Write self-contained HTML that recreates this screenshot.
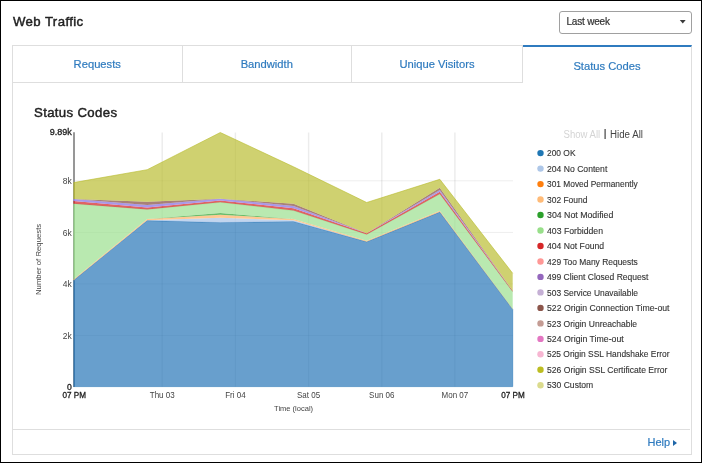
<!DOCTYPE html>
<html><head><meta charset="utf-8">
<style>
html,body{margin:0;padding:0;background:#fff;}
body{width:702px;height:463px;position:relative;overflow:hidden;font-family:"Liberation Sans",sans-serif;}
.frame{position:absolute;left:0;top:0;width:700px;height:461px;border:1px solid #000;}
.title{position:absolute;left:13px;top:14px;font-size:13.2px;color:#222;line-height:16px;letter-spacing:0.4px;-webkit-text-stroke:0.45px #222;}
.select{position:absolute;left:559px;top:11px;width:131px;height:21px;border:1px solid #a0a0a0;border-radius:3px;background:#fff;}
.select span{position:absolute;left:6.5px;top:3px;font-size:10px;line-height:13px;color:#333;letter-spacing:-0.2px;-webkit-text-stroke:0.2px #333;}
.select i{position:absolute;right:6px;top:9px;width:0;height:0;border-left:3px solid transparent;border-right:3px solid transparent;border-top:3.5px solid #444;}
.panel{position:absolute;left:12px;top:45px;width:680px;height:410px;border:1px solid #dedede;box-sizing:border-box;}
.tab{position:absolute;top:45px;height:38px;box-sizing:border-box;border:1px solid #dedede;border-left:none;background:#fff;color:#2f7bbf;font-size:11.2px;text-align:center;line-height:36px;-webkit-text-stroke:0.2px #2f7bbf;}
.tab.first{border-left:1px solid #dedede;}
.tab.active{border-bottom:none;border-top:2px solid #2f7bbf;line-height:38px;}
.h2{position:absolute;left:34px;top:104.5px;font-size:13.2px;color:#222;line-height:16px;letter-spacing:0.35px;-webkit-text-stroke:0.45px #222;}
.footline{position:absolute;left:13px;top:428.5px;width:677px;height:1px;background:#dedede;}
.help{position:absolute;left:647.5px;top:436.3px;font-size:11px;line-height:13px;color:#2f7bbf;-webkit-text-stroke:0.2px #2f7bbf;}
.help i{position:absolute;left:25.2px;top:4.2px;width:0;height:0;border-top:3.3px solid transparent;border-bottom:3.3px solid transparent;border-left:4px solid #1f66a8;}
svg{position:absolute;left:0;top:0;}
svg text{font-family:"Liberation Sans",sans-serif;}
.lg{font-size:8.7px;fill:#333;stroke:#333;stroke-width:0.12px;}
.ax{font-size:8px;fill:#444;}
.axb{font-size:8.6px;fill:#222;stroke:#222;stroke-width:0.3px;}
.aa{will-change:transform;}
</style></head><body>
<div class="aa">
<div class="panel"></div>
<div class="tab first" style="left:12px;width:170.5px;">Requests</div>
<div class="tab" style="left:182.5px;width:169.5px;">Bandwidth</div>
<div class="tab" style="left:352px;width:171px;">Unique Visitors</div>
<div class="tab active" style="left:523px;width:169px;">Status Codes</div>
<div class="title">Web Traffic</div>
<div class="select"><span>Last week</span></div>
<div class="h2">Status Codes</div>
<svg width="702" height="463" viewBox="0 0 702 463">
<line x1="162.2" y1="132.5" x2="162.2" y2="386.7" stroke="#000" stroke-opacity="0.075" stroke-width="1.5"/><line x1="235.4" y1="132.5" x2="235.4" y2="386.7" stroke="#000" stroke-opacity="0.075" stroke-width="1.5"/><line x1="308.6" y1="132.5" x2="308.6" y2="386.7" stroke="#000" stroke-opacity="0.075" stroke-width="1.5"/><line x1="381.8" y1="132.5" x2="381.8" y2="386.7" stroke="#000" stroke-opacity="0.075" stroke-width="1.5"/><line x1="454.9" y1="132.5" x2="454.9" y2="386.7" stroke="#000" stroke-opacity="0.075" stroke-width="1.5"/><line x1="74" y1="335.4" x2="513" y2="335.4" stroke="#000" stroke-opacity="0.07" stroke-width="1"/><line x1="74" y1="283.9" x2="513" y2="283.9" stroke="#000" stroke-opacity="0.07" stroke-width="1"/><line x1="74" y1="232.4" x2="513" y2="232.4" stroke="#000" stroke-opacity="0.07" stroke-width="1"/><line x1="74" y1="180.8" x2="513" y2="180.8" stroke="#000" stroke-opacity="0.07" stroke-width="1"/>
<line x1="74" y1="132.3" x2="74" y2="387" stroke="#8c8c8c" stroke-width="1.8"/>
<polygon points="73.6,280.3 147.2,220.6 220.3,222.6 293.5,221.5 366.7,241.8 439.8,212.1 512.7,309.4 512.7,386.6 439.8,386.6 366.7,386.6 293.5,386.6 220.3,386.6 147.2,386.6 73.6,386.6" fill="#2171b5" fill-opacity="0.68"/>
<polyline points="73.6,280.3 147.2,220.6 220.3,222.6 293.5,221.5 366.7,241.8 439.8,212.1 512.7,309.4 512.7,386.6 73.6,386.6" fill="none" stroke="#2171b5" stroke-opacity="0.55" stroke-width="1" stroke-linejoin="round"/>
<polygon points="73.6,280.3 147.2,220.2 220.3,217.8 293.5,220.3 366.7,241.8 366.7,241.8 293.5,221.5 220.3,222.6 147.2,220.6 73.6,280.3" fill="#aec7e8" fill-opacity="0.75"/>
<polygon points="73.6,279.2 147.2,219.0 220.3,214.8 293.5,219.0 366.7,240.7 439.8,210.8 512.7,308.9 512.7,309.4 439.8,212.1 366.7,241.8 293.5,220.3 220.3,217.8 147.2,220.2 73.6,280.3" fill="#ffbb78" fill-opacity="0.8"/>
<polygon points="147.2,219.0 220.3,213.1 293.5,219.0 293.5,219.0 220.3,214.8 147.2,219.0" fill="#2ca02c" fill-opacity="0.7"/>
<polygon points="73.6,203.7 147.2,209.4 220.3,202.3 293.5,210.6 366.7,234.5 439.8,194.0 512.7,291.8 512.7,308.9 439.8,210.8 366.7,240.7 293.5,219.0 220.3,213.1 147.2,219.0 73.6,279.2" fill="#98df8a" fill-opacity="0.68"/>
<polyline points="73.6,203.7 147.2,209.4 220.3,202.3 293.5,210.6 366.7,234.5 439.8,194.0 512.7,291.8" fill="none" stroke="#98df8a" stroke-opacity="0.5" stroke-width="1" stroke-linejoin="round"/>
<polygon points="73.6,201.1 147.2,207.4 220.3,200.4 293.5,208.3 366.7,233.2 439.8,191.8 512.7,290.8 512.7,291.8 439.8,194.0 366.7,234.5 293.5,210.6 220.3,202.3 147.2,209.4 73.6,203.7" fill="#d62728" fill-opacity="0.72"/>
<polygon points="73.6,199.1 147.2,205.1 220.3,198.8 293.5,206.0 366.7,233.2 439.8,190.1 512.7,290.8 512.7,290.8 439.8,191.8 366.7,233.2 293.5,208.3 220.3,200.4 147.2,207.4 73.6,201.1" fill="#9a86e6" fill-opacity="0.85"/>
<polygon points="73.6,199.1 147.2,201.7 220.3,198.8 293.5,203.8 366.7,233.2 439.8,187.8 512.7,290.8 512.7,290.8 439.8,190.1 366.7,233.2 293.5,206.0 220.3,198.8 147.2,205.1 73.6,199.1" fill="#8c564b" fill-opacity="0.75"/>
<polygon points="73.6,182.6 147.2,169.7 220.3,132.5 293.5,166.8 366.7,202.5 439.8,179.3 512.7,273.3 512.7,290.8 439.8,187.8 366.7,233.2 293.5,203.8 220.3,198.8 147.2,201.7 73.6,199.1" fill="#b8bb2c" fill-opacity="0.68"/>
<polyline points="73.6,182.6 147.2,169.7 220.3,132.5 293.5,166.8 366.7,202.5 439.8,179.3 512.7,273.3" fill="none" stroke="#b8bb2c" stroke-opacity="0.6" stroke-width="1" stroke-linejoin="round"/>
<line x1="74.1" x2="74.1" y1="280.3" y2="386.6" stroke="#2171b5" stroke-opacity="0.6" stroke-width="1"/>
<line x1="74.1" x2="74.1" y1="279.2" y2="280.3" stroke="#ffbb78" stroke-opacity="0.6" stroke-width="1"/>
<line x1="74.1" x2="74.1" y1="203.7" y2="279.2" stroke="#98df8a" stroke-opacity="0.6" stroke-width="1"/>
<line x1="74.1" x2="74.1" y1="201.1" y2="203.7" stroke="#d62728" stroke-opacity="0.6" stroke-width="1"/>
<line x1="74.1" x2="74.1" y1="199.1" y2="201.1" stroke="#9a86e6" stroke-opacity="0.6" stroke-width="1"/>
<line x1="74.1" x2="74.1" y1="182.6" y2="199.1" stroke="#b8bb2c" stroke-opacity="0.6" stroke-width="1"/>
<text transform="translate(162.2,398) scale(0.91,1)" class="ax" text-anchor="middle" style="font-size:8.8px">Thu 03</text><text transform="translate(235.4,398) scale(0.91,1)" class="ax" text-anchor="middle" style="font-size:8.8px">Fri 04</text><text transform="translate(308.6,398) scale(0.91,1)" class="ax" text-anchor="middle" style="font-size:8.8px">Sat 05</text><text transform="translate(381.8,398) scale(0.91,1)" class="ax" text-anchor="middle" style="font-size:8.8px">Sun 06</text><text transform="translate(454.9,398) scale(0.91,1)" class="ax" text-anchor="middle" style="font-size:8.8px">Mon 07</text><text x="71.8" y="338.7" class="ax" text-anchor="end" style="font-size:8.5px">2k</text><text x="71.8" y="287.2" class="ax" text-anchor="end" style="font-size:8.5px">4k</text><text x="71.8" y="235.70000000000002" class="ax" text-anchor="end" style="font-size:8.5px">6k</text><text x="71.8" y="184.10000000000002" class="ax" text-anchor="end" style="font-size:8.5px">8k</text>
<text x="71.8" y="135.2" class="axb" text-anchor="end" textLength="22" lengthAdjust="spacingAndGlyphs">9.89k</text>
<text x="71.8" y="389.8" class="axb" text-anchor="end">0</text>
<text x="74.2" y="397.9" class="axb" text-anchor="middle" textLength="23.5" lengthAdjust="spacingAndGlyphs">07 PM</text>
<text x="513" y="397.9" class="axb" text-anchor="middle" textLength="23.5" lengthAdjust="spacingAndGlyphs">07 PM</text>
<text x="293.6" y="411.2" class="ax" text-anchor="middle" style="font-size:7.9px" textLength="39" lengthAdjust="spacingAndGlyphs">Time (local)</text>
<text transform="translate(40.6,259.4) rotate(-90)" class="ax" text-anchor="middle" style="font-size:7.9px" textLength="71.3" lengthAdjust="spacingAndGlyphs">Number of Requests</text>
<text x="563.5" y="137.5" style="font-size:10px;fill:#d4d4d4" textLength="36.7" lengthAdjust="spacingAndGlyphs">Show All</text>
<rect x="604.5" y="129" width="1.2" height="10" fill="#444"/>
<text x="610" y="137.5" style="font-size:10px;fill:#444" textLength="33" lengthAdjust="spacingAndGlyphs">Hide All</text>
<circle cx="540.5" cy="153.1" r="3.2" fill="#1f77b4"/><text x="547" y="156.2" class="lg" textLength="28.5" lengthAdjust="spacingAndGlyphs">200 OK</text>
<circle cx="540.5" cy="168.6" r="3.2" fill="#aec7e8"/><text x="547" y="171.7" class="lg" textLength="60.3" lengthAdjust="spacingAndGlyphs">204 No Content</text>
<circle cx="540.5" cy="184.1" r="3.2" fill="#ff7f0e"/><text x="547" y="187.2" class="lg" textLength="90.7" lengthAdjust="spacingAndGlyphs">301 Moved Permanently</text>
<circle cx="540.5" cy="199.5" r="3.2" fill="#ffbb78"/><text x="547" y="202.6" class="lg" textLength="40.4" lengthAdjust="spacingAndGlyphs">302 Found</text>
<circle cx="540.5" cy="215.0" r="3.2" fill="#2ca02c"/><text x="547" y="218.1" class="lg" textLength="66.3" lengthAdjust="spacingAndGlyphs">304 Not Modified</text>
<circle cx="540.5" cy="230.5" r="3.2" fill="#98df8a"/><text x="547" y="233.6" class="lg" textLength="56.0" lengthAdjust="spacingAndGlyphs">403 Forbidden</text>
<circle cx="540.5" cy="246.0" r="3.2" fill="#d62728"/><text x="547" y="249.1" class="lg" textLength="57.1" lengthAdjust="spacingAndGlyphs">404 Not Found</text>
<circle cx="540.5" cy="261.5" r="3.2" fill="#ff9896"/><text x="547" y="264.6" class="lg" textLength="90.8" lengthAdjust="spacingAndGlyphs">429 Too Many Requests</text>
<circle cx="540.5" cy="276.9" r="3.2" fill="#9467bd"/><text x="547" y="280.0" class="lg" textLength="101.4" lengthAdjust="spacingAndGlyphs">499 Client Closed Request</text>
<circle cx="540.5" cy="292.4" r="3.2" fill="#c5b0d5"/><text x="547" y="295.5" class="lg" textLength="91.0" lengthAdjust="spacingAndGlyphs">503 Service Unavailable</text>
<circle cx="540.5" cy="307.9" r="3.2" fill="#8c564b"/><text x="547" y="311.0" class="lg" textLength="122.5" lengthAdjust="spacingAndGlyphs">522 Origin Connection Time-out</text>
<circle cx="540.5" cy="323.4" r="3.2" fill="#c49c94"/><text x="547" y="326.5" class="lg" textLength="90.1" lengthAdjust="spacingAndGlyphs">523 Origin Unreachable</text>
<circle cx="540.5" cy="338.9" r="3.2" fill="#e377c2"/><text x="547" y="342.0" class="lg" textLength="76.7" lengthAdjust="spacingAndGlyphs">524 Origin Time-out</text>
<circle cx="540.5" cy="354.3" r="3.2" fill="#f7b6d2"/><text x="547" y="357.4" class="lg" textLength="122.5" lengthAdjust="spacingAndGlyphs">525 Origin SSL Handshake Error</text>
<circle cx="540.5" cy="369.8" r="3.2" fill="#bcbd22"/><text x="547" y="372.9" class="lg" textLength="120.4" lengthAdjust="spacingAndGlyphs">526 Origin SSL Certificate Error</text>
<circle cx="540.5" cy="385.3" r="3.2" fill="#dbdb8d"/><text x="547" y="388.4" class="lg" textLength="46.2" lengthAdjust="spacingAndGlyphs">530 Custom</text>
<polygon points="679.8,20.1 685.7,20.1 682.75,23.6" fill="#3a3a3a"/>
</svg>
<div class="footline"></div>
<div class="help">Help<i></i></div>
</div>
<div class="frame"></div>
</body></html>
